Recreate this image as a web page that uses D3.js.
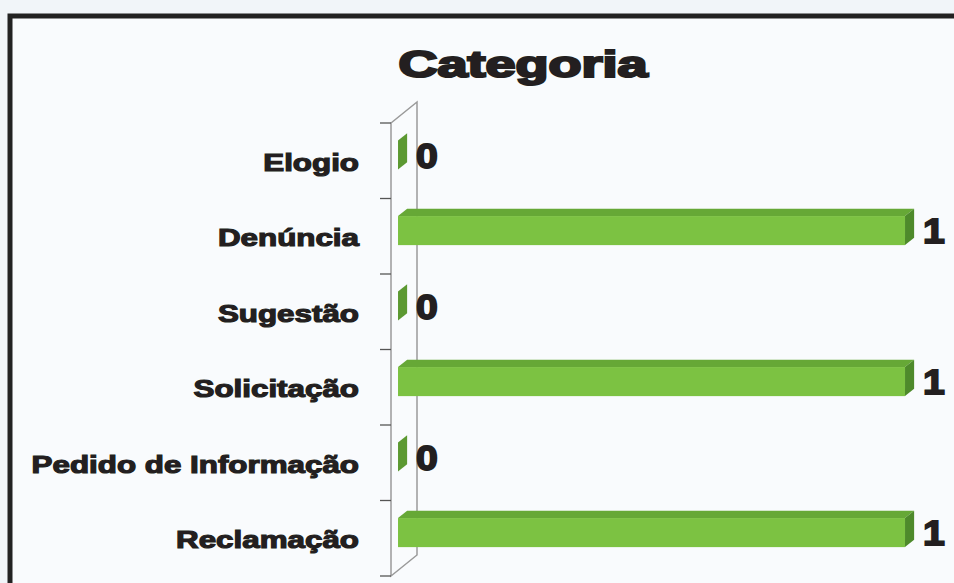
<!DOCTYPE html>
<html>
<head>
<meta charset="utf-8">
<script src="https://cdn.jsdelivr.net/npm/d3@7"></script>
<style>
  html, body { margin: 0; padding: 0; background: #f1f5f9; }
  svg { display: block; }
  text { font-family: "Liberation Sans", Arial, sans-serif; font-weight: bold; fill: #231f20; }
</style>
</head>
<body>
<svg id="chart" width="954" height="583"></svg>
<script>
const categories = ['Elogio', 'Denúncia', 'Sugestão', 'Solicitação', 'Pedido de Informação', 'Reclamação'];
const values = [0, 1, 0, 1, 0, 1];
const title = 'Categoria';

const svg = d3.select('#chart');
const W = 954, H = 583;

// page-ish background + heavy frame of the scanned sheet
svg.append('rect').attr('width', W).attr('height', H).attr('fill', '#f1f5f9');
svg.append('rect')
  .attr('x', 10).attr('y', 16)
  .attr('width', W + 20).attr('height', H + 20)
  .attr('fill', '#f9fbfd')
  .attr('stroke', '#222')
  .attr('stroke-width', 5);

// front plane scales, the depth vector gives the 3d look
const y = d3.scaleBand().domain(categories).range([123, 576]);
const x = d3.scaleLinear().domain([0, 1]).range([391, 898]);
const depth = { dx: 26, dy: -21 };
const barFront = 0.27, barBack = 0.62;
const barH = y.bandwidth() * 0.385;

// side wall of the axis
const wall = svg.append('g').attr('fill', 'none').attr('stroke', '#9a9a9a').attr('stroke-width', 1.5);
const [y0, y1] = y.range();
wall.append('path').attr('d', `M${x(0)},${y0}L${x(0) + depth.dx},${y0 + depth.dy}L${x(0) + depth.dx},${y1 + depth.dy}L${x(0)},${y1}Z`);

// category ticks
const ticks = categories.map(c => y(c)).concat([y1]);
svg.append('g').selectAll('line').data(ticks).join('line')
  .attr('x1', x(0) - 11).attr('x2', x(0))
  .attr('y1', d => d).attr('y2', d => d)
  .attr('stroke', '#555').attr('stroke-width', 1.3);

// bars
const rows = categories.map((c, i) => ({ cat: c, value: values[i] }));
const bars = svg.append('g').selectAll('g').data(rows).join('g');

function geom(d) {
  const cy = y(d.cat) + y.bandwidth() / 2 + barFront * depth.dy;
  const xa = x(0) + barFront * depth.dx;
  const xb = x(d.value) + barFront * depth.dx;
  const ox = (barBack - barFront) * depth.dx;
  const oy = (barBack - barFront) * depth.dy;
  return { cy, xa, xb, ox, oy, top: cy - barH / 2, bot: cy + barH / 2 };
}

// top face
bars.append('path')
  .attr('fill', '#66a836')
  .attr('d', d => {
    const g = geom(d);
    return `M${g.xa},${g.top}L${g.xa + g.ox},${g.top + g.oy}L${g.xb + g.ox},${g.top + g.oy}L${g.xb},${g.top}Z`;
  });
// end face
bars.append('path')
  .attr('fill', d => d.value === 0 ? '#5c9932' : '#4e8a2b')
  .attr('d', d => {
    const g = geom(d);
    return `M${g.xb},${g.top}L${g.xb + g.ox},${g.top + g.oy}L${g.xb + g.ox},${g.bot + g.oy}L${g.xb},${g.bot}Z`;
  });
// front face
bars.append('rect')
  .attr('fill', '#7cc242')
  .attr('x', d => geom(d).xa)
  .attr('y', d => geom(d).top)
  .attr('width', d => geom(d).xb - geom(d).xa)
  .attr('height', barH);

// value labels
bars.append('text')
  .attr('transform', d => {
    const g = geom(d);
    return `translate(${g.xb + g.ox + 9},${g.cy + 12.5}) scale(1.12,1)`;
  })
  .attr('font-size', 35)
  .attr('stroke', '#231f20').attr('stroke-width', 1.8)
  .text(d => d.value);

// category labels
svg.append('g').selectAll('text').data(categories).join('text')
  .attr('transform', d => `translate(359,${y(d) + y.bandwidth() / 2 + 10}) scale(1.28,1)`)
  .attr('text-anchor', 'end')
  .attr('font-size', 24.5)
  .attr('stroke', '#231f20').attr('stroke-width', 1.2)
  .text(d => d);

// title
svg.append('text')
  .attr('transform', 'translate(523,77) scale(1.46,1)')
  .attr('text-anchor', 'middle')
  .attr('font-size', 37)
  .attr('stroke', '#231f20').attr('stroke-width', 2.2)
  .text(title);
</script>
</body>
</html>
